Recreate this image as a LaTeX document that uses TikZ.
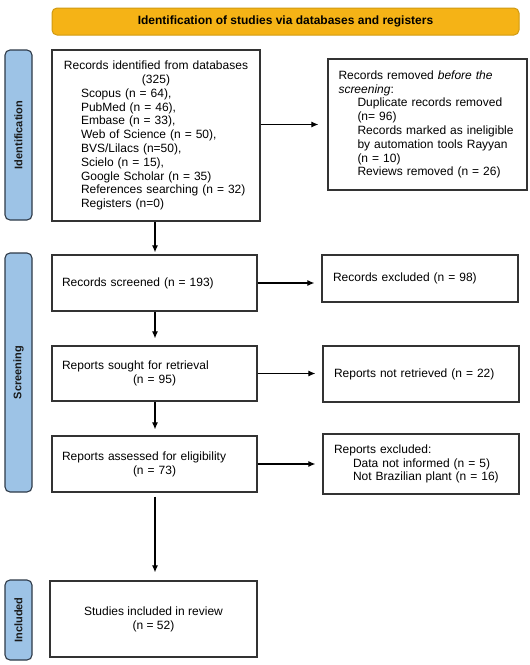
\documentclass[tikz,border=0pt]{standalone}
\usepackage{fontspec}
\setmainfont{Liberation Sans}
\usetikzlibrary{arrows.meta,calc}
\definecolor{bannerfill}{HTML}{F5B316}
\definecolor{bannerline}{HTML}{D09A12}
\definecolor{barfill}{HTML}{9DC3E6}
\definecolor{barline}{HTML}{2E3A48}
\definecolor{boxline}{HTML}{333333}
\begin{document}
\begin{tikzpicture}[x=1pt,y=-1pt,
  every node/.style={font=\fontsize{12}{13.8}\selectfont},
  box/.style={draw=boxline, line width=1.2pt, rectangle, inner sep=0pt},
  bar/.style={draw=barline, fill=barfill, line width=1.1pt, rounded corners=5pt, inner sep=0pt},
  barlab/.style={rotate=90, font=\fontsize{11}{12}\selectfont\bfseries, text=black!90},
  arr/.style={-{Latex[length=7pt,width=6pt]}, line width=1.1pt, draw=black}
]
\useasboundingbox (0,0) rectangle (530,665);
% banner
\node[draw=bannerline, fill=bannerfill, line width=1pt, rounded corners=5pt,
  minimum width=467pt, minimum height=27pt, inner sep=0pt,
  font=\fontsize{12}{13}\selectfont\bfseries] (banner) at (285.5,21.5)
  {Identification of studies via databases and registers};
% side bars
\node[bar, minimum width=27pt, minimum height=170pt] (idbar) at (18.5,135) {};
\node[barlab] (idlab) at (idbar.center) {Identification};
\node[bar, minimum width=27pt, minimum height=239pt] (scbar) at (18.5,372.5) {};
\node[barlab] (sclab) at (scbar.center) {Screening};
\node[bar, minimum width=27pt, minimum height=80pt] (inbar) at (18.5,620) {};
\node[barlab] (inlab) at (inbar.center) {Included};
% left column
\node[box, minimum width=208pt, minimum height=171pt, text width=184pt, align=left] (b1) at (156,135.5)
 {\makebox[184pt]{Records identified from databases}\\
  \makebox[184pt]{(325)}\\
  \hspace*{17pt}Scopus (n = 64),\\
  \hspace*{17pt}PubMed (n = 46),\\
  \hspace*{17pt}Embase (n = 33),\\
  \hspace*{17pt}Web of Science (n = 50),\\
  \hspace*{17pt}BVS/Lilacs (n=50),\\
  \hspace*{17pt}Scielo (n = 15),\\
  \hspace*{17pt}Google Scholar (n = 35)\\
  \hspace*{17pt}References searching (n = 32)\\
  \hspace*{17pt}Registers (n=0)};
\node[box, minimum width=205pt, minimum height=56pt, text width=185pt, align=left] (b2) at (154.5,283)
 {Records screened (n = 193)};
\node[box, minimum width=205pt, minimum height=55pt, text width=185pt, align=left] (b3) at (154.5,373.5)
 {Reports sought for retrieval\\ \hspace*{71pt}(n = 95)};
\node[box, minimum width=205pt, minimum height=56pt, text width=185pt, align=left] (b4) at (154.5,464)
 {Reports assessed for eligibility\\ \hspace*{71pt}(n = 73)};
\node[box, minimum width=207pt, minimum height=76pt, align=center] (b5) at (153.5,619)
 {Studies included in review\\ (n = 52)};
% right column
\node[box, minimum width=199pt, minimum height=131pt, text width=178pt, align=left] (r1) at (427.5,124.5)
 {Records removed \textit{before the screening}:\\
  \hspace*{19pt}Duplicate records removed\\
  \hspace*{19pt}(n= 96)\\
  \hspace*{19pt}Records marked as ineligible\\
  \hspace*{19pt}by automation tools Rayyan\\
  \hspace*{19pt}(n = 10)\\
  \hspace*{19pt}Reviews removed (n = 26)};
\node[box, minimum width=196pt, minimum height=47pt, text width=174pt, align=left] (r2) at (420,278.5)
 {Records excluded (n = 98)};
\node[box, minimum width=196pt, minimum height=56pt, text width=174pt, align=left] (r3) at (421,374)
 {Reports not retrieved (n = 22)};
\node[box, minimum width=196pt, minimum height=60pt, text width=174pt, align=left] (r4) at (421,464)
 {Reports excluded:\\
  \hspace*{19pt}Data not informed (n = 5)\\
  \hspace*{19pt}Not Brazilian plant (n = 16)};
% arrows
\draw[arr, shorten >=9pt] (b1.east |- r1.west) -- (r1.west);
\draw[arr, shorten >=7pt] (b2.east) -- (b2.east -| r2.west);
\draw[arr, shorten >=7pt] (b3.east) -- (b3.east -| r3.west);
\draw[arr, shorten >=7pt] (b4.east) -- (b4.east -| r4.west);
\draw[arr, shorten >=2pt] (b1.south -| 155,0) -- (155,0 |- b2.north);
\draw[arr, shorten >=7pt] (b2.south -| 155,0) -- (155,0 |- b3.north);
\draw[arr, shorten >=6pt] (b3.south -| 155,0) -- (155,0 |- b4.north);
\draw[arr, shorten <=4pt, shorten >=8pt] (b4.south -| 155,0) -- (155,0 |- b5.north);
\end{tikzpicture}
\end{document}
